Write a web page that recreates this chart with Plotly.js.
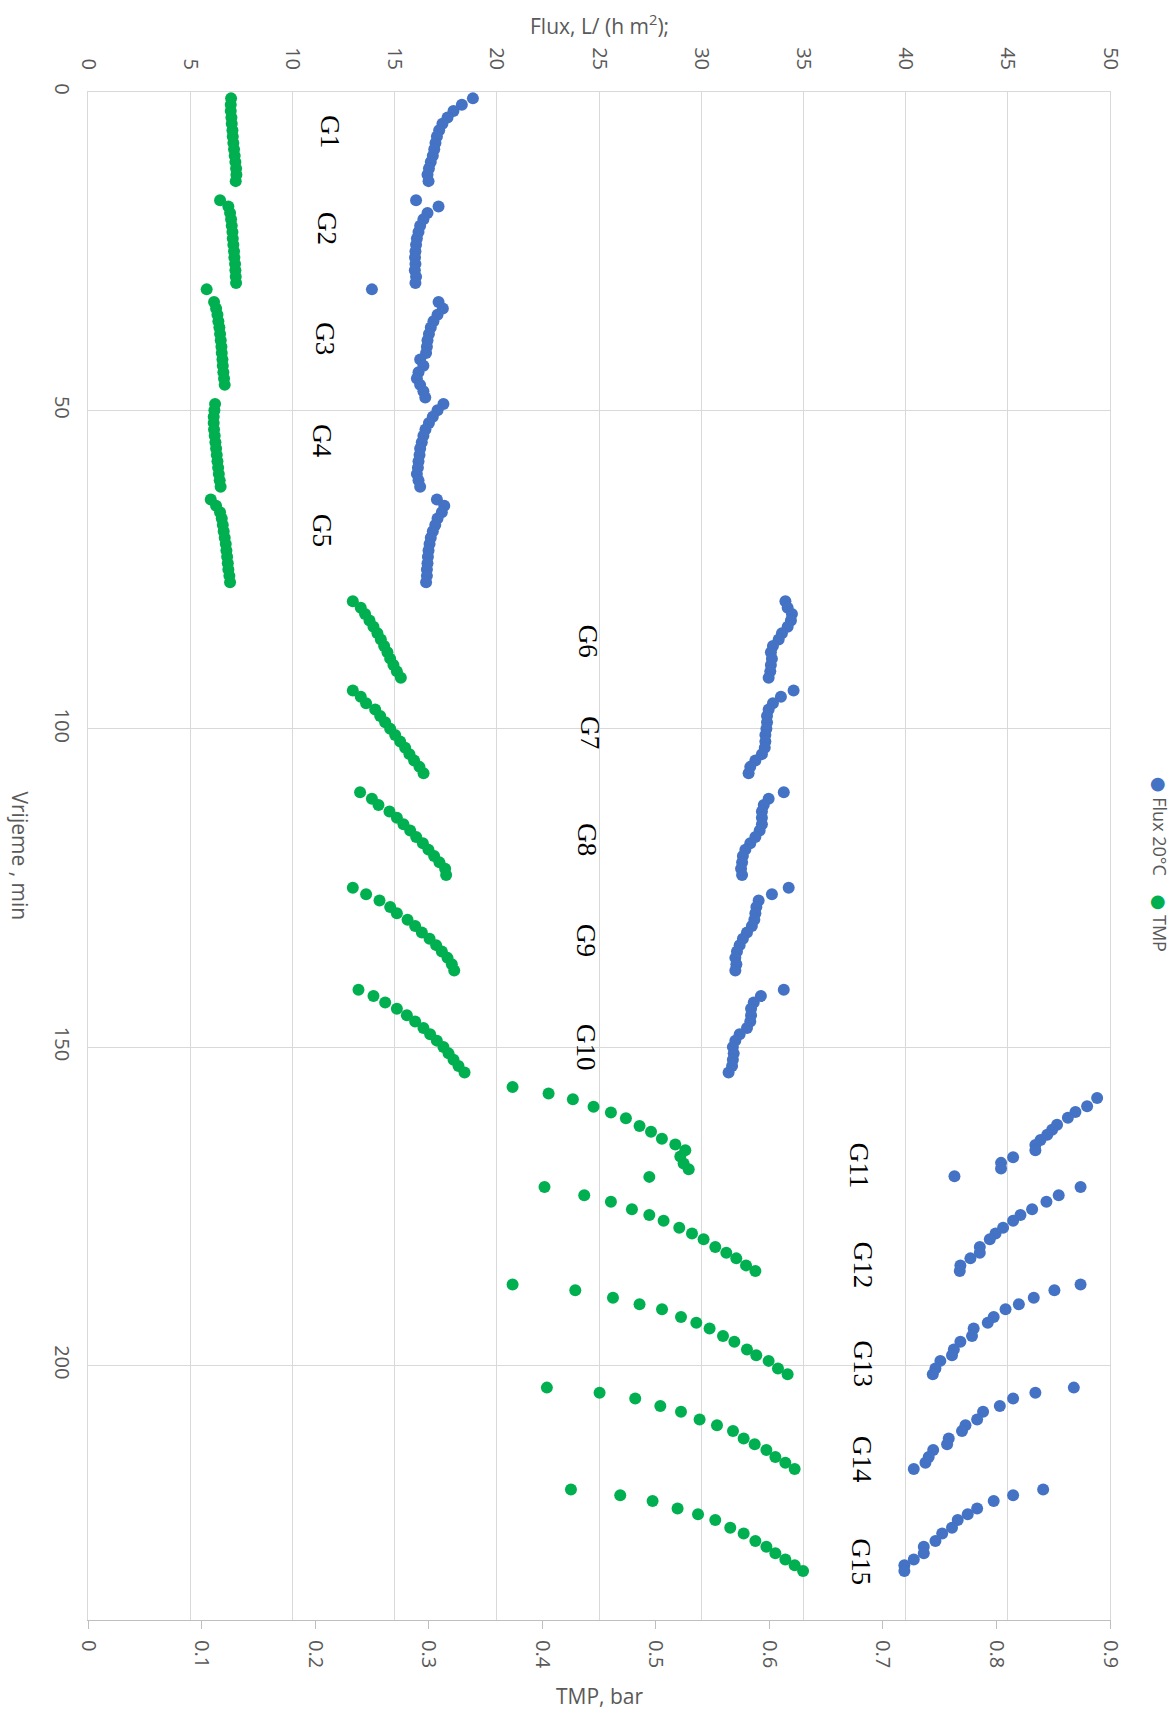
<!DOCTYPE html>
<html>
<head>
<meta charset="utf-8">
<script src="https://cdn.plot.ly/plotly-3.0.1.min.js"></script>
<style>html,body{margin:0;padding:0;background:#fff}#chart{width:1176px;height:1711px}</style>
</head>
<body>
<div id="chart"></div>
<script>
// ---- DATA ----
const groupLabels = ['G1','G2','G3','G4','G5','G6','G7','G8','G9','G10','G11','G12','G13','G14','G15'];
const seriesNames = ['Flux 20°C', 'TMP'];

// Flux 20°C : time (min) and flux L/(h m2)
const fluxTime = [
  1,2,3,4,5,6,7,8,9,10,11,12,13,14,
  17,18,19,20,21,22,23,24,25,26,27,28,29,30,
  31,
  33,34,35,36,37,38,39,40,41,42,43,44,45,46,47,48,
  49,50,51,52,53,54,55,56,57,58,59,60,61,62,
  64,65,66,67,68,69,70,71,72,73,74,75,76,77,
  80,81,82,83,84,85,86,87,88,89,90,91,92,
  94,95,96,97,98,99,100,101,102,103,104,105,106,107,
  110,111,112,113,114,115,116,117,118,119,120,121,122,123,
  125,126,127,128,129,130,131,132,133,134,135,136,137,138,
  141,142,143,144,145,146,147,148,149,150,151,152,153,154,
  158,159.3,160.2,161.1,162.2,163,163.8,164.6,165.4,166.2,167.3,168.2,169.1,170.3,
  172,173.3,174.3,175.5,176.4,177.3,178.4,179.3,180.2,181.4,182.3,183.2,184.3,185.2,
  187.3,188.2,189.4,190.4,191.2,192.4,193.3,194.2,195.4,196.3,197.5,198.4,199.3,200.5,201.4,
  203.5,204.3,205.2,206.4,207.3,208.5,209.4,210.3,211.5,212.4,213.3,214.4,215.3,216.3,
  219.5,220.4,221.3,222.5,223.4,224.3,225.5,226.4,227.6,228.5,229.5,230.5,231.4,232.3
];
const fluxValue = [
  18.83,18.29,17.88,17.59,17.34,17.18,17.07,17.0,16.94,16.87,16.77,16.68,16.61,16.66,
  16.05,17.15,16.61,16.41,16.25,16.17,16.09,16.05,16.02,16.0,16.02,15.99,16.05,16.02,
  13.89,
  17.15,17.36,17.1,16.9,16.77,16.68,16.61,16.58,16.54,16.25,16.41,16.17,16.09,16.25,16.41,16.5,
  17.39,17.1,16.87,16.68,16.51,16.41,16.33,16.25,16.22,16.17,16.14,16.09,16.17,16.25,
  17.07,17.43,17.31,17.1,16.99,16.87,16.77,16.71,16.66,16.63,16.61,16.58,16.58,16.54,
  34.12,34.23,34.44,34.39,34.23,33.95,33.79,33.51,33.41,33.46,33.41,33.38,33.3,
  34.52,33.9,33.51,33.3,33.22,33.22,33.19,33.14,33.14,33.11,32.97,32.65,32.4,32.32,
  34.04,33.3,33.06,32.97,32.97,32.97,32.86,32.65,32.4,32.16,32.04,32.0,31.95,32.0,
  34.28,33.46,32.81,32.7,32.65,32.6,32.48,32.24,32.04,31.88,31.75,31.67,31.72,31.67,
  34.04,32.92,32.57,32.44,32.44,32.4,32.24,31.88,31.67,31.55,31.59,31.55,31.51,31.34,
  49.37,48.88,48.31,47.94,47.41,47.17,46.93,46.6,46.35,46.35,45.26,44.67,44.67,42.39,
  48.56,47.49,46.89,46.19,45.62,45.26,44.77,44.4,44.12,43.63,43.63,43.17,42.68,42.65,
  48.56,47.28,46.27,45.54,44.89,44.31,44.02,43.33,43.25,42.68,42.36,42.27,41.7,41.46,41.33,
  48.23,46.35,45.26,44.61,43.79,43.5,42.93,42.76,42.11,42.03,41.35,41.13,40.97,40.4,
  46.73,45.26,44.31,43.5,43.04,42.55,42.27,41.79,41.46,40.89,40.89,40.4,39.94,39.94
];

// TMP : time (min) and pressure (bar)
const tmpTime = [
  1,2,3,4,5,6,7,8,9,10,11,12,13,14,
  17,18,19,20,21,22,23,24,25,26,27,28,29,30,
  31,
  33,34,35,36,37,38,39,40,41,42,43,44,45,46,
  49,50,51,52,53,54,55,56,57,58,59,60,61,62,
  64,65,66,67,68,69,70,71,72,73,74,75,76,77,
  80,81,82,83,84,85,86,87,88,89,90,91,92,
  94,95,96,97,98,99,100,101,102,103,104,105,106,107,
  110,111,112,113,114,115,116,117,118,119,120,121,122,123,
  125,126,127,128,129,130,131,132,133,134,135,136,137,138,
  141,142,143,144,145,146,147,148,149,150,151,152,153,154,
  156.3,157.3,158.2,159.4,160.3,161.2,162.4,163.3,164.4,165.3,166.2,167.2,168.3,169.2,170.4,
  172,173.3,174.3,175.5,176.4,177.3,178.4,179.3,180.2,181.4,182.3,183.2,184.3,185.2,
  187.3,188.2,189.4,190.4,191.2,192.4,193.3,194.2,195.4,196.3,197.5,198.4,199.3,200.5,201.4,
  203.5,204.3,205.2,206.4,207.3,208.5,209.4,210.3,211.5,212.4,213.3,214.4,215.3,216.3,
  219.5,220.4,221.3,222.5,223.4,224.3,225.5,226.4,227.6,228.5,229.5,230.5,231.4,232.3
];
const tmpValue = [
  0.126,0.1257,0.1257,0.1263,0.1266,0.1272,0.1275,0.128,0.1286,0.1292,0.1298,0.1304,0.1307,0.1301,
  0.1163,0.1236,0.1251,0.126,0.1266,0.1272,0.1275,0.128,0.1286,0.1289,0.1295,0.1298,0.1301,0.1304,
  0.1045,
  0.111,0.1128,0.114,0.1148,0.1157,0.1163,0.1169,0.1175,0.1178,0.1184,0.1187,0.1192,0.1198,0.1204,
  0.1119,0.1113,0.1107,0.1107,0.111,0.1116,0.1122,0.1128,0.1134,0.114,0.1146,0.1152,0.116,0.1168,
  0.1081,0.1128,0.1163,0.1178,0.1187,0.1195,0.1204,0.1213,0.1219,0.1225,0.1231,0.1236,0.1245,0.1251,
  0.2332,0.2402,0.244,0.2479,0.2514,0.2549,0.2579,0.2608,0.2637,0.2661,0.269,0.272,0.2755,
  0.2332,0.2402,0.2449,0.2529,0.2573,0.2617,0.2661,0.2705,0.2749,0.2793,0.2831,0.2872,0.2919,0.2955,
  0.2396,0.25,0.2558,0.2655,0.272,0.2778,0.2837,0.289,0.2949,0.2998,0.3048,0.3095,0.3145,0.3154,
  0.2332,0.2449,0.2567,0.2661,0.272,0.2814,0.2881,0.294,0.3008,0.3066,0.3116,0.3166,0.3204,0.3225,
  0.2382,0.2514,0.2617,0.272,0.2808,0.2881,0.2954,0.3013,0.3072,0.313,0.3175,0.3219,0.3263,0.3316,
  0.3739,0.4056,0.427,0.4452,0.4605,0.4737,0.4857,0.4958,0.5054,0.5172,0.526,0.5216,0.5245,0.529,0.4943,
  0.402,0.437,0.4605,0.479,0.4943,0.5069,0.5207,0.5319,0.5421,0.5524,0.5621,0.5709,0.5795,0.5877,
  0.3739,0.4291,0.4623,0.4857,0.5055,0.5222,0.5357,0.5474,0.5592,0.5692,0.5803,0.5885,0.5994,0.6076,0.6161,
  0.4041,0.4505,0.4819,0.504,0.5222,0.5386,0.5539,0.568,0.5774,0.5871,0.5974,0.6053,0.6141,0.6223,
  0.4253,0.4687,0.4972,0.5192,0.5372,0.5524,0.5656,0.5774,0.5877,0.5974,0.6053,0.6141,0.6223,0.6297
];

// ---- CHART ----
const BLUE = '#4472C4', GREEN = '#00B050', GREY = '#595959', GRID = '#d9d9d9';
const FONT = 'Open Sans, DejaVu Sans, sans-serif';

const traces = [
  { type: 'scatter', mode: 'markers', name: seriesNames[0], x: fluxValue, y: fluxTime,
    xaxis: 'x2', yaxis: 'y', marker: { color: BLUE, size: 12 }, hoverinfo: 'x+y' },
  { type: 'scatter', mode: 'markers', name: seriesNames[1], x: tmpValue, y: tmpTime,
    xaxis: 'x', yaxis: 'y', marker: { color: GREEN, size: 12 }, hoverinfo: 'x+y' }
];

// label anchor points in (flux, time) coordinates
const labelPos = [
  [11.8, 6.2], [11.7, 21.4], [11.6, 38.7], [11.45, 54.7], [11.45, 68.8],
  [24.45, 86.3], [24.55, 100.7], [24.4, 117.5], [24.4, 133.3], [24.4, 150.1],
  [37.7, 168.6], [37.9, 184.3], [37.9, 199.8], [37.9, 214.8], [37.8, 230.9]
];
const annotations = groupLabels.map((g, i) => ({
  text: g, xref: 'x2', yref: 'y', x: labelPos[i][0], y: labelPos[i][1],
  showarrow: false, textangle: 90,
  font: { family: 'Liberation Serif, Times New Roman, serif', size: 27, color: '#000' }
}));

annotations.push(
  { text: 'Flux, L/ (h m<sup>2</sup>);', xref: 'paper', yref: 'paper', x: 0.5, y: 1.0445,
    xanchor: 'center', yanchor: 'middle', showarrow: false, font: { family: FONT, size: 21, color: GREY } },
  { text: 'TMP, bar', xref: 'paper', yref: 'paper', x: 0.5, y: -0.0497,
    xanchor: 'center', yanchor: 'middle', showarrow: false, font: { family: FONT, size: 21, color: GREY } },
  { text: 'Vrijeme , min', xref: 'paper', yref: 'paper', x: -0.067, y: 0.5, textangle: 90,
    xanchor: 'center', yanchor: 'middle', showarrow: false, font: { family: FONT, size: 21, color: GREY } },
  { text: '<span style="color:' + BLUE + '">●</span>\u00a0' + seriesNames[0] +
          '\u00a0\u00a0\u00a0\u00a0<span style="color:' + GREEN + '">●</span>\u00a0' + seriesNames[1],
    xref: 'paper', yref: 'paper', x: 1.049, y: 0.4948, textangle: 90,
    xanchor: 'center', yanchor: 'middle', showarrow: false, font: { family: FONT, size: 18, color: GREY } }
);

const layout = {
  width: 1176, height: 1711,
  margin: { l: 88, r: 66, t: 92, b: 91, pad: 0 },
  paper_bgcolor: '#fff', plot_bgcolor: '#fff',
  showlegend: false,
  font: { family: FONT, size: 20, color: GREY },
  xaxis: {
    range: [0, 0.9], tick0: 0, dtick: 0.1, showgrid: false, zeroline: false,
    showline: true, linecolor: '#bfbfbf', linewidth: 1,
    ticks: 'outside', ticklen: 8, tickcolor: '#bfbfbf', tickwidth: 1,
    tickangle: 90, ticklabelstandoff: 7, tickfont: { family: FONT, size: 20, color: GREY }
  },
  xaxis2: {
    range: [0, 50], tick0: 0, dtick: 5, overlaying: 'x', side: 'top', anchor: 'y',
    showgrid: true, gridcolor: GRID, gridwidth: 1, zeroline: false,
    showline: true, linecolor: GRID, linewidth: 1,
    ticks: 'outside', ticklen: 14, tickcolor: 'rgba(0,0,0,0)',
    tickangle: 90, tickfont: { family: FONT, size: 20, color: GREY }
  },
  yaxis: {
    range: [240, 0], tick0: 0, dtick: 50, showgrid: true, gridcolor: GRID, gridwidth: 1,
    zeroline: false, showline: true, mirror: true, linecolor: GRID, linewidth: 1,
    ticks: 'outside', ticklen: 8, tickcolor: 'rgba(0,0,0,0)',
    tickangle: 90, tickfont: { family: FONT, size: 20, color: GREY }
  },
  annotations: annotations
};

Plotly.newPlot('chart', traces, layout, { displayModeBar: false, staticPlot: true });
</script>
</body>
</html>
